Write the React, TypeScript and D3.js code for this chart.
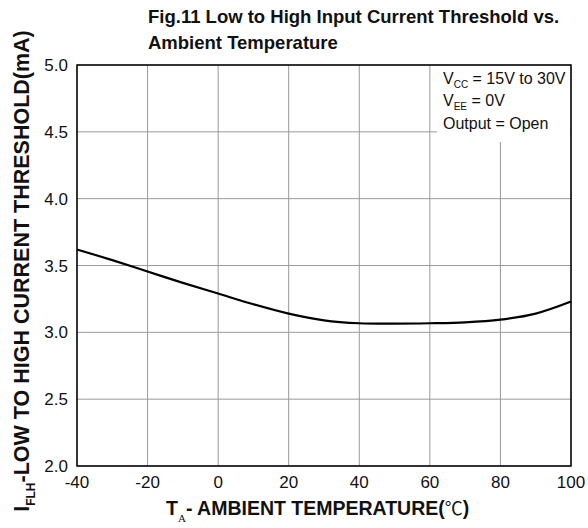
import React from "react";
import * as d3 from "d3";

const temps = [-40, -30, -20, -10, 0, 10, 20, 30, 40, 50, 60, 70, 80, 90, 100];
const current = [3.62, 3.54, 3.455, 3.37, 3.29, 3.21, 3.14, 3.09, 3.068, 3.065, 3.068, 3.075, 3.095, 3.14, 3.23];
const xTicks = [-40, -20, 0, 20, 40, 60, 80, 100];
const yTicks = [2.0, 2.5, 3.0, 3.5, 4.0, 4.5, 5.0];

const W = 588;
const H = 528;
const L = 77, R = 571, T = 65, B = 466;
const FONT = "'Liberation Sans', Arial, Helvetica, sans-serif";

export default function App() {
  const x = d3.scaleLinear().domain([-40, 100]).range([L, R]);
  const y = d3.scaleLinear().domain([2, 5]).range([B, T]);
  const line = d3
    .line<number>()
    .x((_, i) => x(temps[i]))
    .y((d) => y(d))
    .curve(d3.curveCatmullRom.alpha(0.5));

  return (
    <svg
      width={W}
      height={H}
      style={{ position: "absolute", left: 0, top: 0, background: "#fff" }}
      fontFamily={FONT}
    >
      <rect x={0} y={0} width={W} height={H} fill="#fff" />
      {/* grid */}
      {xTicks.map((t) => (
        <line key={"gx" + t} x1={x(t)} x2={x(t)} y1={T} y2={B} stroke="#999" strokeWidth={1} />
      ))}
      {yTicks.map((t) => (
        <line key={"gy" + t} x1={L} x2={R} y1={y(t)} y2={y(t)} stroke="#999" strokeWidth={1} />
      ))}
      {/* legend box background */}
      <rect x={437} y={T + 1} width={R - 437 - 1} height={76} fill="#fff" />
      <text x={443} y={84} fontSize={16} fill="#111">
        V<tspan fontSize={10} dy={4}>CC</tspan>
        <tspan dy={-4}> = 15V to 30V</tspan>
      </text>
      <text x={443} y={106} fontSize={16} fill="#111">
        V<tspan fontSize={10} dy={4}>EE</tspan>
        <tspan dy={-4}> = 0V</tspan>
      </text>
      <text x={443} y={129} fontSize={16} fill="#111">
        Output = Open
      </text>
      {/* curve */}
      <path d={line(current) || ""} fill="none" stroke="#000" strokeWidth={2.2} />
      {/* border */}
      <rect x={L} y={T} width={R - L} height={B - T} fill="none" stroke="#000" strokeWidth={1.5} />
      {/* y tick labels */}
      {yTicks.map((t) => (
        <text key={"ly" + t} x={68} y={y(t) + 6} fontSize={17} textAnchor="end" fill="#111">
          {t.toFixed(1)}
        </text>
      ))}
      {/* x tick labels */}
      {xTicks.map((t) => (
        <text key={"lx" + t} x={x(t)} y={488} fontSize={17} textAnchor="middle" fill="#111">
          {t}
        </text>
      ))}
      {/* title */}
      <text x={148} y={23} fontSize={18.5} fontWeight="bold" fill="#111">
        Fig.11 Low to High Input Current Threshold vs.
      </text>
      <text x={148} y={49} fontSize={18.5} fontWeight="bold" fill="#111">
        Ambient Temperature
      </text>
      {/* x axis title */}
      <text x={166} y={515} fontSize={19.5} fontWeight="bold" fill="#111">
        T<tspan fontSize={11} fontWeight="normal" fontFamily="'Liberation Serif', serif" dy={7}>A</tspan>
        <tspan dy={-7}>- AMBIENT TEMPERATURE(</tspan>
        <tspan fontWeight="normal" fontFamily="'Noto Sans CJK SC', sans-serif" fontSize={18}>℃</tspan>
        <tspan>)</tspan>
      </text>
      {/* y axis title */}
      <text
        transform={`translate(29, 271) rotate(-90)`}
        textAnchor="middle"
        fontSize={21.5}
        fontWeight="bold"
        fill="#111"
      >
        I<tspan fontSize={12} dy={6}>FLH</tspan>
        <tspan dy={-6}>-LOW TO HIGH CURRENT THRESHOLD(mA)</tspan>
      </text>
    </svg>
  );
}
